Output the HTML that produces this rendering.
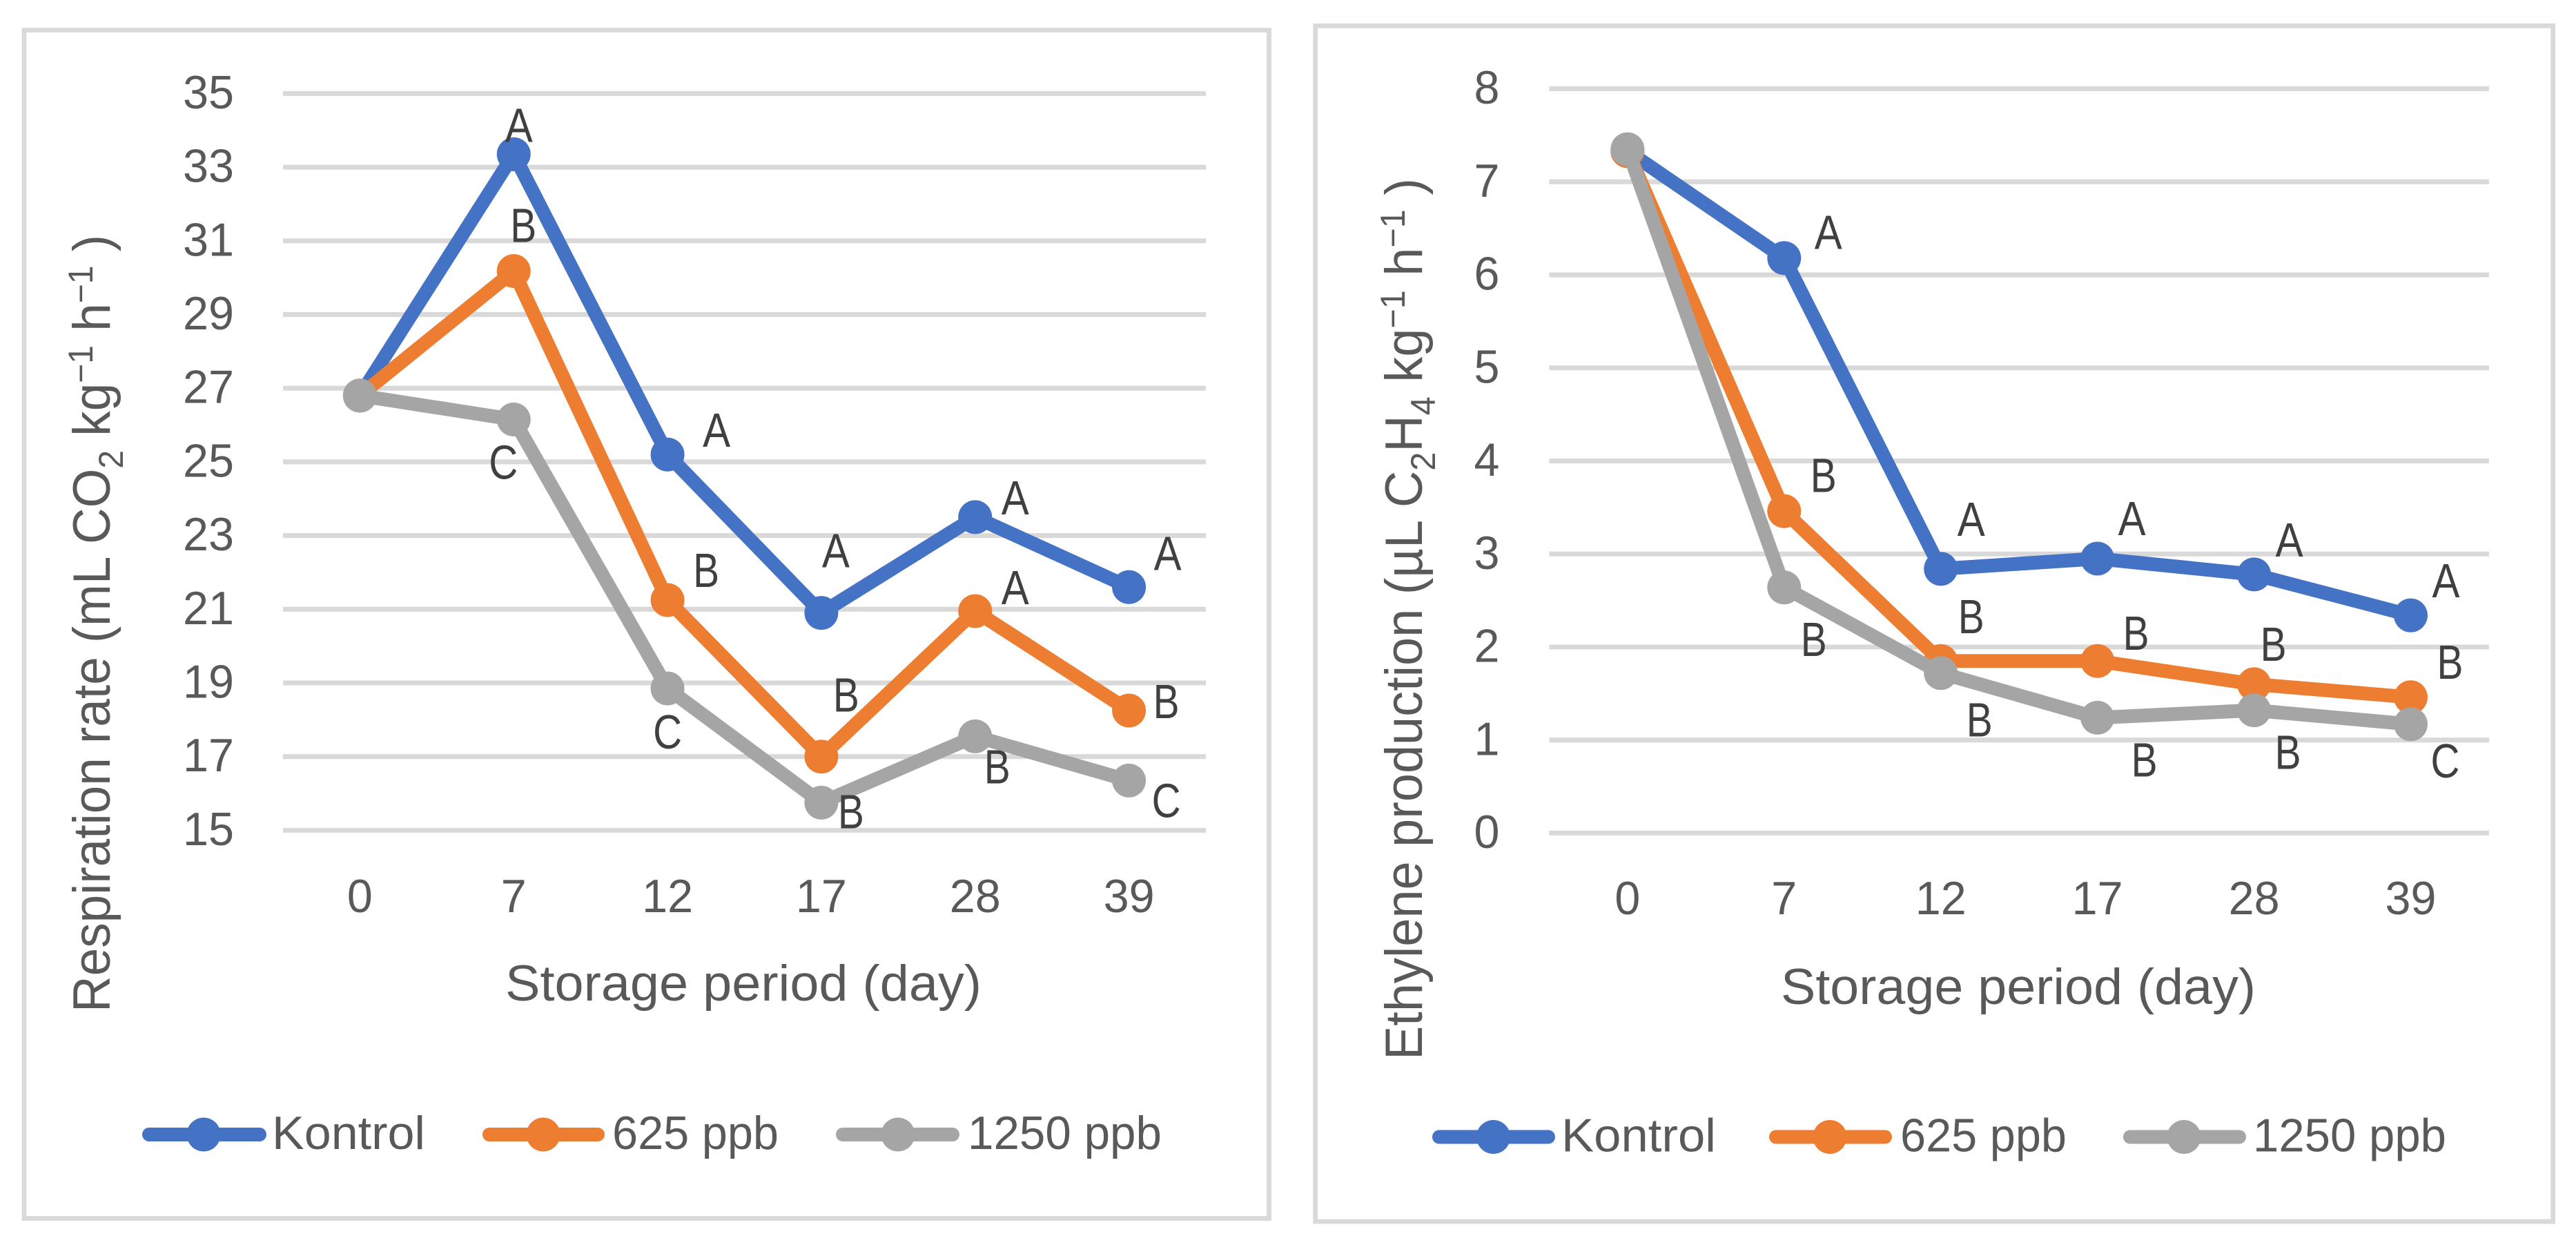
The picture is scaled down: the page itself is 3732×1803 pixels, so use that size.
<!DOCTYPE html>
<html lang="en">
<head>
<meta charset="utf-8">
<title>Respiration rate and ethylene production</title>
<style>
html,body{margin:0;padding:0;background:#fff;}
svg{display:block;font-family:"Liberation Sans",sans-serif;}
</style>
</head>
<body>
<svg id="figure" xmlns="http://www.w3.org/2000/svg" width="3732" height="1803" viewBox="0 0 3732 1803">
  <rect x="0" y="0" width="3732" height="1803" fill="#ffffff"/>
  <rect x="35" y="43.7" width="1803.5" height="1720.8" fill="none" stroke="#d9d9d9" stroke-width="6.8"/>
  <rect x="1905.7" y="37.4" width="1793" height="1731.6" fill="none" stroke="#d9d9d9" stroke-width="6.8"/>
  <g id="left-chart"></g>
  <g id="right-chart"></g>
  <text transform="translate(159,1466) rotate(-90)" font-size="76" fill="#595959" textLength="1126" lengthAdjust="spacingAndGlyphs">Respiration rate (mL CO<tspan font-size="50" dy="19">2</tspan><tspan dy="-19"> kg</tspan><tspan font-size="50" dy="-25">−1</tspan><tspan dy="25"> h</tspan><tspan font-size="50" dy="-25">−1</tspan><tspan dy="25"> )</tspan></text>
  <text transform="translate(2060,1535) rotate(-90)" font-size="76" fill="#595959" textLength="1277" lengthAdjust="spacingAndGlyphs">Ethylene production (µL C<tspan font-size="50" dy="19">2</tspan><tspan dy="-19">H</tspan><tspan font-size="50" dy="19">4</tspan><tspan dy="-19"> kg</tspan><tspan font-size="50" dy="-25">−1</tspan><tspan dy="25"> h</tspan><tspan font-size="50" dy="-25">−1</tspan><tspan dy="25"> )</tspan></text>
</svg>
<script>
// ---- data ----
const categories = ['0', '7', '12', '17', '28', '39'];
const seriesNames = ['Kontrol', '625 ppb', '1250 ppb'];
const seriesColors = ['#4472c4', '#ed7d31', '#a5a5a5'];

const respTicks = [15, 17, 19, 21, 23, 25, 27, 29, 31, 33, 35];
const respKontrol = [26.8, 33.35, 25.2, 20.9, 23.5, 21.6];
const resp625 = [26.8, 30.18, 21.25, 17.0, 20.95, 18.25];
const resp1250 = [26.8, 26.15, 18.85, 15.75, 17.55, 16.35];
const respLettersKontrol = ['', 'A', 'A', 'A', 'A', 'A'];
const respLetters625 = ['', 'B', 'B', 'B', 'A', 'B'];
const respLetters1250 = ['', 'C', 'C', 'B', 'B', 'C'];

const ethTicks = [0, 1, 2, 3, 4, 5, 6, 7, 8];
const ethKontrol = [7.33, 6.18, 2.84, 2.95, 2.78, 2.34];
const eth625 = [7.33, 3.46, 1.85, 1.85, 1.60, 1.46];
const eth1250 = [7.35, 2.64, 1.72, 1.24, 1.32, 1.17];
const ethLettersKontrol = ['', 'A', 'A', 'A', 'A', 'A'];
const ethLetters625 = ['', 'B', 'B', 'B', 'B', 'B'];
const ethLetters1250 = ['', 'B', 'B', 'B', 'B', 'C'];

// ---- layout (separate from the data) ----
const SVGNS = 'http://www.w3.org/2000/svg';
const letterWidths = { A: 40, B: 38, C: 42 };

const leftLayout = {
  gridLeft: 410, gridRight: 1747, yBottom: 1202.4, yPerUnit: 53.35, yMin: 15,
  tickCenterX: 302, xTickY: 1298, xTitle: 'Storage period (day)', xTitleX: 1077, xTitleY: 1424, xTitleW: 690,
  legendY: 1643,
  legend: [
    { x1: 216, x2: 376, mx: 295, tx: 394, tw: 222 },
    { x1: 709, x2: 866, mx: 787, tx: 887, tw: 241 },
    { x1: 1221, x2: 1380, mx: 1301, tx: 1402, tw: 281 }
  ],
  offsets: [
    [[0,0],[7.5,-42],[71,-35],[21,-90],[58,-28],[56,-49]],
    [[0,0],[14,-66],[56,-43],[36,-89],[58,-34],[54,-13]],
    [[0,0],[-15,62],[0,63],[43,13],[32,44],[54,29]]
  ]
};
const rightLayout = {
  gridLeft: 2244.4, gridRight: 3606, yBottom: 1206.5, yPerUnit: 134.75, yMin: 0,
  tickCenterX: 2154, xTickY: 1301, xTitle: 'Storage period (day)', xTitleX: 2924, xTitleY: 1429, xTitleW: 688,
  legendY: 1646.5,
  legend: [
    { x1: 2085, x2: 2243, mx: 2163.5, tx: 2262, tw: 224 },
    { x1: 2573, x2: 2731, mx: 2651, tx: 2753, tw: 241 },
    { x1: 3086, x2: 3244, mx: 3164, tx: 3264, tw: 280 }
  ],
  offsets: [
    [[0,0],[64,-37],[44,-72],[50,-58],[51,-50],[51,-50]],
    [[0,0],[57,-52],[44,-64],[56,-40],[28,-58],[57,-51]],
    [[0,0],[43,75],[56,68],[68,61],[49,61],[50,53]]
  ]
};

function mk(parent, tag, attrs, content) {
  const el = document.createElementNS(SVGNS, tag);
  for (const k in attrs) el.setAttribute(k, attrs[k]);
  if (content !== undefined) el.textContent = content;
  parent.appendChild(el);
  return el;
}

function drawChart(root, prefix, layout, ticks, series, letters) {
  const band = (layout.gridRight - layout.gridLeft) / categories.length;
  const xScale = i => layout.gridLeft + band * (i + 0.5);
  const yScale = v => layout.yBottom - (v - layout.yMin) * layout.yPerUnit;

  // gridlines + y ticks
  ticks.forEach(t => {
    const grid = mk(root, 'rect', { x: layout.gridLeft, y: yScale(t) - 3.5, width: layout.gridRight - layout.gridLeft, height: 7, fill: '#d9d9d9' });
    
    
    const s = String(t);
    const lab = mk(root, 'text', { x: layout.tickCenterX, y: yScale(t) + 21.5, 'text-anchor': 'middle', 'font-size': 68, fill: '#595959', textLength: s.length * 37, lengthAdjust: 'spacingAndGlyphs' }, s);
    
    
  });

  // x ticks
  categories.forEach((c, i) => {
    const lab = mk(root, 'text', { x: xScale(i), y: layout.xTickY + 23, 'text-anchor': 'middle', 'font-size': 68, fill: '#595959', textLength: c.length * 37, lengthAdjust: 'spacingAndGlyphs' }, c);
    
    
  });

  // x title
  const xt = mk(root, 'text', { x: layout.xTitleX, y: layout.xTitleY + 25, 'text-anchor': 'middle', 'font-size': 73, fill: '#595959', textLength: layout.xTitleW, lengthAdjust: 'spacingAndGlyphs' }, layout.xTitle);
  
  

  // series
  series.forEach((vals, si) => {
    const sname = seriesNames[si].toLowerCase().replace(/\s+/g, '-');
    const pts = vals.map((v, i) => xScale(i) + ',' + yScale(v)).join(' ');
    const line = mk(root, 'polyline', { points: pts, fill: 'none', stroke: seriesColors[si], 'stroke-width': 20, 'stroke-linejoin': 'round', 'stroke-linecap': 'round' });
    
    
    vals.forEach((v, i) => {
      const dot = mk(root, 'circle', { cx: xScale(i), cy: yScale(v), r: 24.5, fill: seriesColors[si] });
      
      
    });
  });

  // significance letters, anchored to their points
  series.forEach((vals, si) => {
    const sname = seriesNames[si].toLowerCase().replace(/\s+/g, '-');
    vals.forEach((v, i) => {
      const ch = letters[si][i];
      if (!ch) return;
      const off = layout.offsets[si][i];
      const t = mk(root, 'text', { x: xScale(i) + off[0], y: yScale(v) + off[1] + 24, 'text-anchor': 'middle', 'font-size': 70, fill: '#404040', textLength: letterWidths[ch], lengthAdjust: 'spacingAndGlyphs' }, ch);
      
      
    });
  });

  // legend
  layout.legend.forEach((e, si) => {
    const sname = seriesNames[si].toLowerCase().replace(/\s+/g, '-');
    const group = mk(root, 'g', {});
    
    
    const ln = mk(group, 'line', { x1: e.x1, x2: e.x2, y1: layout.legendY, y2: layout.legendY, stroke: seriesColors[si], 'stroke-width': 20, 'stroke-linecap': 'round' });
    
    
    const mark = mk(group, 'circle', { cx: e.mx, cy: layout.legendY, r: 24.5, fill: seriesColors[si] });
    
    
    const lt = mk(group, 'text', { x: e.tx, y: layout.legendY + 21, 'font-size': 68, fill: '#595959', textLength: e.tw, lengthAdjust: 'spacingAndGlyphs' }, seriesNames[si]);
    
    
  });
}

drawChart(document.getElementById('left-chart'), 'respiration', leftLayout, respTicks,
  [respKontrol, resp625, resp1250], [respLettersKontrol, respLetters625, respLetters1250]);
drawChart(document.getElementById('right-chart'), 'ethylene', rightLayout, ethTicks,
  [ethKontrol, eth625, eth1250], [ethLettersKontrol, ethLetters625, ethLetters1250]);
</script>
</body>
</html>
